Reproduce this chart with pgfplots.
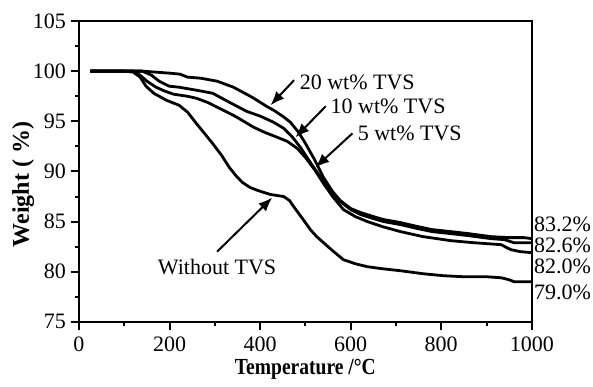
\documentclass[border=0pt]{standalone}
\usepackage{pgfplots}
\pgfplotsset{compat=1.18}
\usepackage{graphicx}
\usepackage{fontspec}
\setmainfont{Liberation Serif}
\usetikzlibrary{arrows.meta}

\pgfplotstableread{
T W
25 100
100 100
120 99.9
135 99.4
148 98.5
165 97.8
193 97.1
221 96.6
240 95.9
259 94.8
277 93.8
295 92.8
315 91.6
332 90.4
348 89.5
361 88.9
378 88.4
395 88.1
423 87.7
452 87.5
465 87.1
474 86.5
492 85.4
511 84.2
525 83.5
540 82.9
560 82.1
584 81.2
610 80.8
637 80.5
670 80.3
710 80.1
760 79.8
806 79.6
850 79.5
900 79.5
932 79.4
950 79.2
961 79.0
1000 79.0
}\without

\pgfplotstableread{
T W
25 100
140 100
170 99.9
200 99.8
223 99.7
240 99.4
268 99.3
305 99.0
341 98.4
370 97.7
386 97.3
414 96.5
430 96.1
450 95.5
467 94.9
485 93.9
500 92.8
520 91.2
540 89.4
560 88.0
577 87.1
600 86.3
622 85.9
650 85.5
673 85.2
710 84.9
748 84.5
780 84.2
821 84.0
860 83.8
910 83.5
950 83.4
983 83.4
1000 83.3
}\twenty

\pgfplotstableread{
T W
25 100
140 100
160 99.6
177 99.0
199 98.5
221 98.4
259 98.1
295 97.8
332 96.9
370 96.0
401 95.5
430 94.9
452 94.3
470 93.5
489 92.4
505 91.3
520 90.3
540 89.0
560 87.9
577 87.0
600 86.2
622 85.7
650 85.3
673 85.0
710 84.7
748 84.3
780 84.0
821 83.8
860 83.6
910 83.3
940 83.2
960 82.9
1000 82.9
}\ten

\pgfplotstableread{
T W
25 100
120 100
135 99.6
150 99.0
170 98.4
190 98.0
209 97.7
239 97.5
259 97.3
283 96.9
310 96.3
341 95.6
360 95.1
386 94.4
410 93.9
438 93.4
460 93.0
482 92.3
500 91.4
520 90.2
540 88.8
560 87.5
584 86.2
610 85.5
637 85.0
670 84.5
710 84.0
760 83.5
821 83.1
870 82.9
932 82.7
945 82.4
954 82.2
975 82.0
1000 81.9
}\five

\begin{document}
\begin{tikzpicture}
\begin{axis}[
  scale only axis,
  width=226.5pt, height=150.5pt,
  xmin=0, xmax=1000, ymin=75, ymax=105,
  xtick={0,200,...,1000},
  ytick={75,80,...,105},
  minor x tick num=1,
  minor y tick num=1,
  axis x line*=bottom,
  axis y line*=left,
  axis line style={line width=1.3pt, -},
  tick style={line width=1pt, black},
  tick align=outside,
  major tick length=4pt,
  minor tick length=2pt,
  /pgf/number format/assume math mode=true,
  /pgf/number format/1000 sep={},
  ticklabel style={font=\fontsize{11}{13}\selectfont},
  yticklabel style={xshift=1pt},
  xlabel={\scalebox{0.85}[1]{\textbf{Temperature /°C}}},
  ylabel={\textbf{Weight ( \%)}},
  xlabel style={font=\fontsize{11.5}{13}\selectfont, yshift=3pt},
  ylabel style={font=\fontsize{12}{14}\selectfont, yshift=-7.5pt, xshift=-6.5pt},
  clip=false,
]
\draw[line width=0.9pt] (rel axis cs:0,1) -- (rel axis cs:1,1) -- (rel axis cs:1,0);
\addplot[black, line width=1.4pt] table[x=T,y=W] {\without};
\addplot[black, line width=1.4pt] table[x=T,y=W] {\five};
\addplot[black, line width=1.4pt] table[x=T,y=W] {\ten};
\addplot[black, line width=1.4pt] table[x=T,y=W] {\twenty};

\draw[line width=1pt, -{Latex[length=7pt,width=5.5pt]}] (axis cs:475,99.1) -- (axis cs:423,96.6);
\draw[line width=1pt, -{Latex[length=7pt,width=5.5pt]}] (axis cs:545,96.5) -- (axis cs:478,93.4);
\draw[line width=1pt, -{Latex[length=7pt,width=5.5pt]}] (axis cs:604,93.8) -- (axis cs:522,90.4);
\draw[line width=1pt, -{Latex[length=7pt,width=5.5pt]}] (axis cs:305,82.0) -- (axis cs:427,87.4);

\node[anchor=west, inner sep=0pt, font=\fontsize{11}{13}\selectfont] at (axis cs:487,98.9) {20 wt\% TVS};
\node[anchor=west, inner sep=0pt, font=\fontsize{11}{13}\selectfont] at (axis cs:555,96.5) {10 wt\% TVS};
\node[anchor=west, inner sep=0pt, font=\fontsize{11}{13}\selectfont] at (axis cs:615,93.8) {5 wt\% TVS};
\node[anchor=center, inner sep=0pt, font=\fontsize{11}{13}\selectfont] at (axis cs:305,80.5) {Without TVS};

\node[anchor=west, inner sep=1pt, font=\fontsize{11}{13}\selectfont] at (axis cs:1000,84.7) {83.2\%};
\node[anchor=west, inner sep=1pt, font=\fontsize{11}{13}\selectfont] at (axis cs:1000,82.6) {82.6\%};
\node[anchor=west, inner sep=1pt, font=\fontsize{11}{13}\selectfont] at (axis cs:1000,80.55) {82.0\%};
\node[anchor=west, inner sep=1pt, font=\fontsize{11}{13}\selectfont] at (axis cs:1000,77.9) {79.0\%};
\end{axis}
\path (current axis.north west) ++(-39.5pt,10.5pt) coordinate (bbtl);
\path (current axis.south west) ++(-39.5pt,-27.5pt) coordinate (bbbl);
\path (bbtl) -- (bbbl);
\end{tikzpicture}
\end{document}
